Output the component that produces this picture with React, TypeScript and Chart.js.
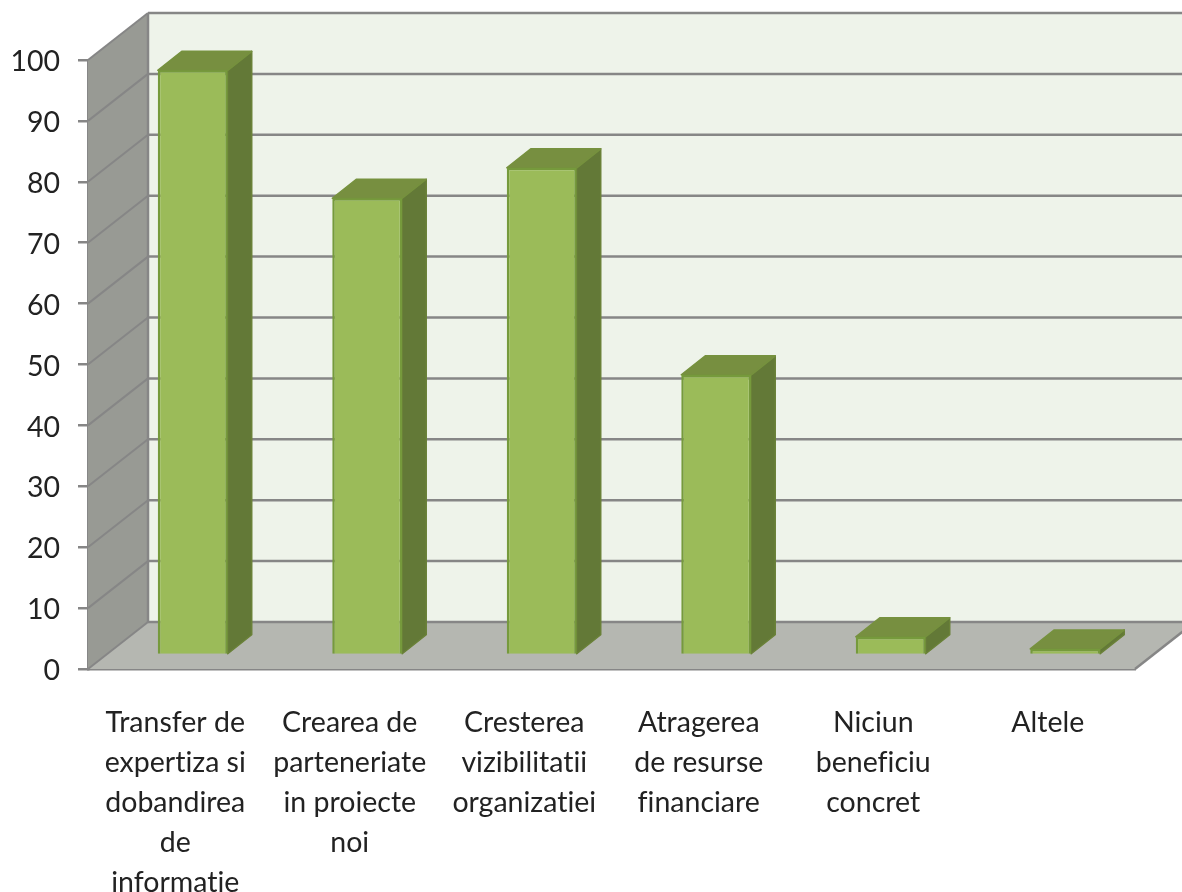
import React, { useEffect, useRef } from "react";
import { Chart, registerables } from "chart.js";

Chart.register(...registerables);

const categories: string[][] = [
  ["Transfer de", "expertiza si", "dobandirea", "de", "informatie"],
  ["Crearea de", "parteneriate", "in proiecte", "noi"],
  ["Cresterea", "vizibilitatii", "organizatiei"],
  ["Atragerea", "de resurse", "financiare"],
  ["Niciun", "beneficiu", "concret"],
  ["Altele"],
];
const values: number[] = [96, 75, 80, 46, 3, 1];
const gridValues: number[] = [0, 10, 20, 30, 40, 50, 60, 70, 80, 90, 100];

const WALL_DX = 60;
const WALL_DY = -47;
const BAR_DX = 17.5;
const BAR_DY = -14;
const DEPTH_DX = 24;
const DEPTH_DY = -19;

const poly = (ctx: CanvasRenderingContext2D, pts: number[][], fill: string, stroke?: string, lw = 2) => {
  ctx.beginPath();
  pts.forEach((p, i) => (i ? ctx.lineTo(p[0], p[1]) : ctx.moveTo(p[0], p[1])));
  ctx.closePath();
  ctx.fillStyle = fill;
  ctx.fill();
  if (stroke) {
    ctx.strokeStyle = stroke;
    ctx.lineWidth = lw;
    ctx.lineJoin = "round";
    ctx.stroke();
  }
};

const walls3d = {
  id: "walls3d",
  beforeDraw(chart: any) {
    chart.ctx.textRendering = "optimizeSpeed";
  },
  beforeDatasetsDraw(chart: any) {
    const { ctx, chartArea: a, scales } = chart;
    const y = scales.y;
    const top = y.getPixelForValue(100);
    const bot = y.getPixelForValue(0);
    ctx.save();
    // back wall
    poly(ctx, [[a.left + WALL_DX, top + WALL_DY], [a.right + WALL_DX, top + WALL_DY], [a.right + WALL_DX, bot + WALL_DY], [a.left + WALL_DX, bot + WALL_DY]], "#EEF3EA");
    // side wall
    poly(ctx, [[a.left, top], [a.left + WALL_DX, top + WALL_DY], [a.left + WALL_DX, bot + WALL_DY], [a.left, bot]], "#989A94");
    // floor
    poly(ctx, [[a.left, bot], [a.left + WALL_DX, bot + WALL_DY], [a.right + WALL_DX, bot + WALL_DY], [a.right, bot]], "#B5B7B1");
    ctx.lineCap = "butt";
    ctx.strokeStyle = "#868686";
    for (const v of gridValues) {
      const py = y.getPixelForValue(v);
      ctx.lineWidth = 2.5;
      ctx.beginPath();
      ctx.moveTo(a.left + WALL_DX, py + WALL_DY);
      ctx.lineTo(a.right + WALL_DX, py + WALL_DY);
      ctx.stroke();
      ctx.lineWidth = 2;
      ctx.beginPath();
      ctx.moveTo(a.left, py);
      ctx.lineTo(a.left + WALL_DX, py + WALL_DY);
      ctx.stroke();
    }
    ctx.beginPath();
    ctx.lineWidth = 2.5;
    ctx.moveTo(a.left + WALL_DX, top + WALL_DY);
    ctx.lineTo(a.left + WALL_DX, bot + WALL_DY);
    ctx.stroke();
    ctx.beginPath();
    ctx.moveTo(a.right, bot);
    ctx.lineTo(a.right + WALL_DX, bot + WALL_DY);
    ctx.stroke();
    ctx.restore();
  },
  beforeDatasetDraw(chart: any) {
    const ctx = chart.ctx;
    ctx.save();
    ctx.translate(BAR_DX, BAR_DY);
    for (const el of chart.getDatasetMeta(0).data) {
      const l = el.x - el.width / 2;
      const r = el.x + el.width / 2;
      const t = el.y;
      const b = el.base;
      // right side face
      poly(ctx, [[r, t], [r + DEPTH_DX, t + DEPTH_DY], [r + DEPTH_DX, b + DEPTH_DY], [r, b]], "#637937", "#6A8138", 1.5);
      // top face
      poly(ctx, [[l, t], [l + DEPTH_DX, t + DEPTH_DY], [r + DEPTH_DX, t + DEPTH_DY], [r, t]], "#778F40", "#76913E", 1.5);
    }
  },
  afterDatasetDraw(chart: any) {
    chart.ctx.restore();
  },
};

export default function App() {
  const ref = useRef<HTMLCanvasElement>(null);
  useEffect(() => {
    const chart = new Chart(ref.current as HTMLCanvasElement, {
      type: "bar",
      data: {
        labels: categories,
        datasets: [
          {
            data: values,
            backgroundColor: "#9BBB59",
            borderColor: "#769A3C",
            borderWidth: 2.5,
            categoryPercentage: 1,
            barPercentage: 0.401,
          },
        ],
      },
      options: {
        responsive: false,
        animation: false,
        devicePixelRatio: 1,
        layout: { padding: { top: 60, right: 47, left: 0, bottom: 0 } },
        plugins: { legend: { display: false }, title: { display: false }, tooltip: { enabled: false } },
        scales: {
          x: {
            afterFit: (s: any) => { s.height = 223; },
            grid: { display: false, drawTicks: false },
            border: { display: true, color: "#868686", width: 2.5 },
            ticks: {
              autoSkip: false,
              maxRotation: 0,
              minRotation: 0,
              padding: 34,
              color: "#222222",
              font: { family: "Lato", size: 28.5, lineHeight: 1.4 },
            },
          },
          y: {
            min: 0,
            max: 100,
            afterFit: (s: any) => { s.width = 88; },
            grid: { drawOnChartArea: false, drawTicks: true, tickLength: 10, color: "#868686", lineWidth: 2.5 },
            border: { display: true, color: "#868686", width: 2.5 },
            ticks: {
              stepSize: 10,
              padding: 18,
              labelOffset: 2,
              color: "#222222",
              font: { family: "Lato", size: 28.5 },
            },
          },
        },
      },
      plugins: [walls3d],
    } as any);
    return () => chart.destroy();
  }, []);
  return (
    <canvas
      ref={ref}
      width={1182}
      height={892}
      style={{ position: "absolute", left: 0, top: 0, display: "block", filter: "blur(0.6px)" }}
    />
  );
}
